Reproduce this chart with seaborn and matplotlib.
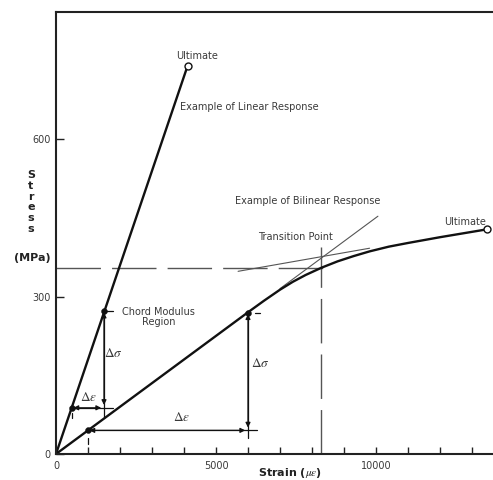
import matplotlib
matplotlib.use("Agg")
import matplotlib.pyplot as plt
import seaborn as sns

# linear response: origin to ultimate
lin_strain = [0, 4115]
lin_stress = [0, 740]

# bilinear response
bil_strain = [0, 1000, 6000, 6500, 7000, 7400, 7800, 8300, 8800, 9300, 9800,
              10400, 11000, 12000, 13470]
bil_stress = [0, 45, 270, 292, 313, 328, 341, 355, 367, 377, 386,
              395, 402, 413, 428]

# chord modulus end points
lin_chord_strain = [500, 1500]
lin_chord_stress = [88, 272]
bil_chord_strain = [1000, 6000]
bil_chord_stress = [45, 269]

# thin tangent lines for the bilinear fit
tan_steep_strain = [7000, 10060]
tan_steep_stress = [315, 453]
tan_flat_strain = [5690, 9800]
tan_flat_stress = [348, 392]

# transition point guide
trans_strain = 8280
trans_stress = 355

ultimate_strain = [4115, 13470]
ultimate_stress = [740, 428]

x_major = [0, 5000, 10000]
x_minor = [1000, 2000, 3000, 4000, 6000, 7000, 8000, 9000, 11000, 12000, 13000]
y_major = [0, 300, 600]

INK = "#111111"
GREY = "#555555"
TXT = "#3a3a3a"

sns.set_theme(style="white")
plt.rcParams.update({
    "font.family": ["DejaVu Sans"],
    "mathtext.fontset": "stix",
    "font.size": 7,
})

fig = plt.figure(figsize=(4.93, 4.80), dpi=100)
ax = fig.add_axes([56 / 493, 26 / 480, 442 / 493, 442 / 480])
ax.set_xlim(0, 13812)
ax.set_ylim(0, 842)

# guide lines through the transition point
ax.plot([0, 8560], [trans_stress, trans_stress], color=GREY, lw=1.0, dashes=(32, 8))
ax.plot([trans_strain, trans_strain], [0, 394], color=GREY, lw=1.0, dashes=(32, 8))

# tangents
ax.plot(tan_steep_strain, tan_steep_stress, color=GREY, lw=0.8)
ax.plot(tan_flat_strain, tan_flat_stress, color=GREY, lw=0.8)

# response curves
sns.lineplot(x=lin_strain, y=lin_stress, sort=False, color=INK, lw=1.7, ax=ax)
sns.lineplot(x=bil_strain, y=bil_stress, sort=False, color=INK, lw=1.7, ax=ax)

# chord points and ultimate markers
sns.scatterplot(x=lin_chord_strain + bil_chord_strain,
                y=lin_chord_stress + bil_chord_stress,
                color=INK, s=18, edgecolor=INK, zorder=5, ax=ax)
ax.plot(ultimate_strain, ultimate_stress, "o", ms=5, mfc="white", mec=INK, mew=1.0, zorder=5)

arrow = dict(arrowstyle="<|-|>", color=INK, lw=0.9, mutation_scale=7, shrinkA=2, shrinkB=1)

# linear chord construction
ax.plot([lin_chord_strain[1]] * 2, [lin_chord_stress[1], 69], color=INK, lw=0.9)
ax.plot([lin_chord_strain[0], 1780], [lin_chord_stress[0]] * 2, color=INK, lw=0.9)
ax.plot([lin_chord_strain[0]] * 2, [78, 68], color=INK, lw=0.9)
ax.plot([1560, 1780], [lin_chord_stress[1]] * 2, color=INK, lw=0.9)
ax.annotate("", xy=(lin_chord_strain[1], lin_chord_stress[1]),
            xytext=(lin_chord_strain[1], lin_chord_stress[0]), arrowprops=arrow)
ax.annotate("", xy=(lin_chord_strain[0], lin_chord_stress[0]),
            xytext=(lin_chord_strain[1], lin_chord_stress[0]), arrowprops=arrow)

# bilinear chord construction
ax.plot([bil_chord_strain[1]] * 2, [bil_chord_stress[1], 30], color=INK, lw=0.9)
ax.plot([bil_chord_strain[0], 6270], [bil_chord_stress[0]] * 2, color=INK, lw=0.9)
ax.plot([bil_chord_strain[0]] * 2, [30, 19], color=INK, lw=0.9)
ax.plot([6220, 6380], [bil_chord_stress[1]] * 2, color=INK, lw=0.9)
ax.annotate("", xy=(bil_chord_strain[1], bil_chord_stress[1]),
            xytext=(bil_chord_strain[1], bil_chord_stress[0]), arrowprops=arrow)
ax.annotate("", xy=(bil_chord_strain[0], bil_chord_stress[0]),
            xytext=(bil_chord_strain[1], bil_chord_stress[0]), arrowprops=arrow)

# annotations
ax.text(4400, 758, "Ultimate", ha="center", va="center", color=TXT)
ax.text(3875, 661, "Example of Linear Response", ha="left", va="center", color=TXT)
ax.text(5594, 482, "Example of Bilinear Response", ha="left", va="center", color=TXT)
ax.text(6312, 413, "Transition Point", ha="left", va="center", color=TXT)
ax.text(12780, 442, "Ultimate", ha="center", va="center", color=TXT)
ax.text(3203, 261, "Chord Modulus\nRegion", ha="center", va="center", color=TXT,
        linespacing=1.05)
ax.text(1781, 192, r"$\Delta\sigma$", ha="center", va="center", fontsize=9.5, color=TXT)
ax.text(1031, 107, r"$\Delta\varepsilon$", ha="center", va="center", fontsize=9.5, color=TXT)
ax.text(6375, 173, r"$\Delta\sigma$", ha="center", va="center", fontsize=9.5, color=TXT)
ax.text(3937, 69, r"$\Delta\varepsilon$", ha="center", va="center", fontsize=9.5, color=TXT)

# axes styling
for side in ("left", "bottom", "top"):
    ax.spines[side].set_color("#222222")
    ax.spines[side].set_linewidth(1.5)
ax.spines["right"].set_visible(False)

ax.set_xticks(x_major)
ax.set_xticks(x_minor, minor=True)
ax.set_yticks(y_major)
ax.set_xticklabels([str(v) for v in x_major])
ax.set_yticklabels([str(v) for v in y_major])
ax.tick_params(axis="both", which="both", direction="in", colors="#222222",
               labelcolor=TXT, labelsize=7, width=1.0)
ax.tick_params(axis="x", which="both", length=5, pad=5, bottom=True, top=False)
ax.tick_params(axis="y", length=6, pad=4, left=True, right=False)

ax.set_xlabel(r"Strain ($\mu\varepsilon$)", fontsize=8, fontweight="bold", color="#222222")
ax.xaxis.set_label_coords((290 - 56) / 442, -0.027)
ax.set_ylabel("")

fig.text(31 / 493, 1 - 202 / 480, "\n".join("Stress"), ha="center", va="center",
         fontsize=8, fontweight="bold", color="#222222", linespacing=1.12)
fig.text(32 / 493, 1 - 258 / 480, "(MPa)", ha="center", va="center",
         fontsize=8, fontweight="bold", color="#222222")

fig.savefig("out.png", dpi=100)
